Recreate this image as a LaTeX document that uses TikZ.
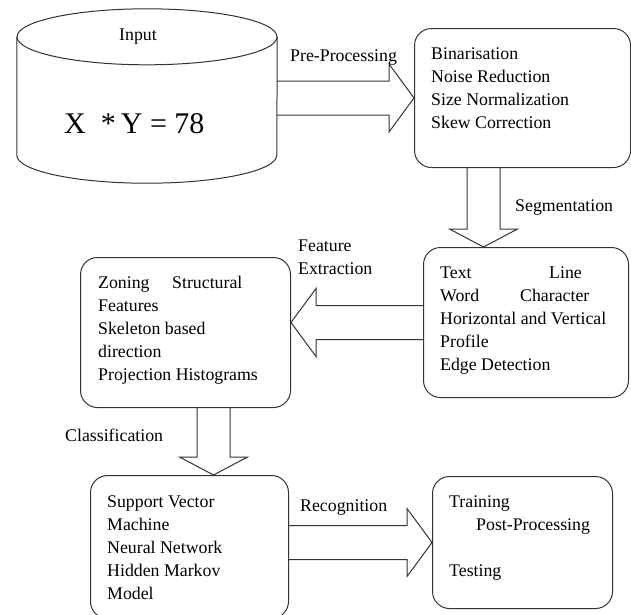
\documentclass[tikz,border=0pt]{standalone}
\usepackage{fontspec}
\setmainfont{Liberation Serif}
\usetikzlibrary{calc}

\newcommand{\dfont}{\fontsize{17.8}{23}\selectfont}
\tikzset{
  box/.style={draw=black!80, line width=1pt, rounded corners=17pt, anchor=north west, inner sep=0pt},
  txt/.style={anchor=north west, align=left, inner sep=0pt, font=\dfont},
  lbl/.style={anchor=base west, inner sep=0pt, font=\dfont},
  fat/.style={draw=black!80, line width=1pt, line join=miter},
}

\begin{document}
\begin{tikzpicture}[x=1pt, y=-1pt]
    \useasboundingbox (0,0) rectangle (631,614);
    % input cylinder
    \node[minimum width=260, minimum height=118, inner sep=0pt] (cyl) at (147,96) {};
    \draw[fat] (cyl.north) ellipse [x radius=130, y radius=28];
    \draw[fat] (cyl.north west) -- (cyl.south west) arc [start angle=180, end angle=0, x radius=130, y radius=28] -- (cyl.north east);
    \node[anchor=base, inner sep=0pt, font=\dfont] (intxt) at ($(cyl.north)+(-9,4)$) {Input};
    \node[anchor=base west, inner sep=0pt, font=\fontsize{30}{36}\selectfont] (eq) at (64,133) {X~~*\,Y = 78};

    % boxes
    \node[box, minimum width=216, minimum height=139] (prep) at (414,28) {};
    \node[box, minimum width=205, minimum height=150] (seg) at (423,247) {};
    \node[box, minimum width=210, minimum height=150] (feat) at (80,257) {};
    \node[box, minimum width=198, minimum height=143] (clf) at (90,475) {};
    \node[box, minimum width=180, minimum height=132] (post) at (432,476) {};

    \node[txt] (preptxt) at ($(prep.north west)+(17,15)$) {\strut Binarisation\\Noise Reduction\\Size Normalization\\Skew Correction};
    \node[txt] (segtxt) at ($(seg.north west)+(17,15)$) {\strut\makebox[109pt][l]{Text}Line\\\makebox[80pt][l]{Word}Character\\Horizontal and Vertical\\Profile\\Edge Detection};
    \node[txt] (feattxt) at ($(feat.north west)+(18,15)$) {\strut\makebox[74pt][l]{Zoning}Structural\\Features\\Skeleton based\\direction\\Projection Histograms};
    \node[txt] (clftxt) at ($(clf.north west)+(17,16)$) {\strut Support Vector\\Machine\\Neural Network\\Hidden Markov\\Model};
    \node[txt] (posttxt) at ($(post.north west)+(17,15)$) {\strut Training\\\hspace*{27pt}Post-Processing\\[23pt]Testing};

    % block arrows
    \coordinate (a1) at (cyl.east |- prep.west);
    \draw[fat] ($(a1)+(0,-17)$) -- ($(prep.west)+(-25,-17)$) -- ($(prep.west)+(-25,-34)$) -- (prep.west)
      -- ($(prep.west)+(-25,34)$) -- ($(prep.west)+(-25,17)$) -- ($(a1)+(0,17)$);

    \coordinate (segx) at (483.5,0);
    \coordinate (a2) at (prep.south -| segx);
    \coordinate (b2) at (seg.north -| segx);
    \draw[fat] ($(a2)+(-16.5,0)$) -- ($(b2)+(-16.5,-18)$) -- ($(b2)+(-34,-18)$) -- (b2)
      -- ($(b2)+(34,-18)$) -- ($(b2)+(16.5,-18)$) -- ($(a2)+(16.5,0)$);

    \coordinate (b3) at (feat.east |- seg.west);
    \draw[fat] ($(seg.west)+(0,-17)$) -- ($(b3)+(25,-17)$) -- ($(b3)+(25,-34)$) -- (b3)
      -- ($(b3)+(25,34)$) -- ($(b3)+(25,17)$) -- ($(seg.west)+(0,17)$);

    \coordinate (clfx) at (213.5,0);
    \coordinate (a4) at (feat.south -| clfx);
    \coordinate (b4) at (clf.north -| clfx);
    \draw[fat] ($(a4)+(-16.5,0)$) -- ($(b4)+(-16.5,-18)$) -- ($(b4)+(-34,-18)$) -- (b4)
      -- ($(b4)+(34,-18)$) -- ($(b4)+(16.5,-18)$) -- ($(a4)+(16.5,0)$);

    \coordinate (a5) at (clf.east |- post.west);
    \draw[fat] ($(a5)+(0,-17)$) -- ($(post.west)+(-25,-17)$) -- ($(post.west)+(-25,-34)$) -- (post.west)
      -- ($(post.west)+(-25,34)$) -- ($(post.west)+(-25,17)$) -- ($(a5)+(0,17)$);

    % arrow labels
    \node[lbl] (lprep) at (290,61) {Pre-Processing};
    \node[lbl] (lseg) at (515,211) {Segmentation};
    \node[txt] (lfeat) at (298,235) {\strut Feature\\Extraction};
    \node[lbl] (lclf) at (65,441) {Classification};
    \node[lbl] (lrec) at (300,511) {Recognition};
\end{tikzpicture}
\end{document}
